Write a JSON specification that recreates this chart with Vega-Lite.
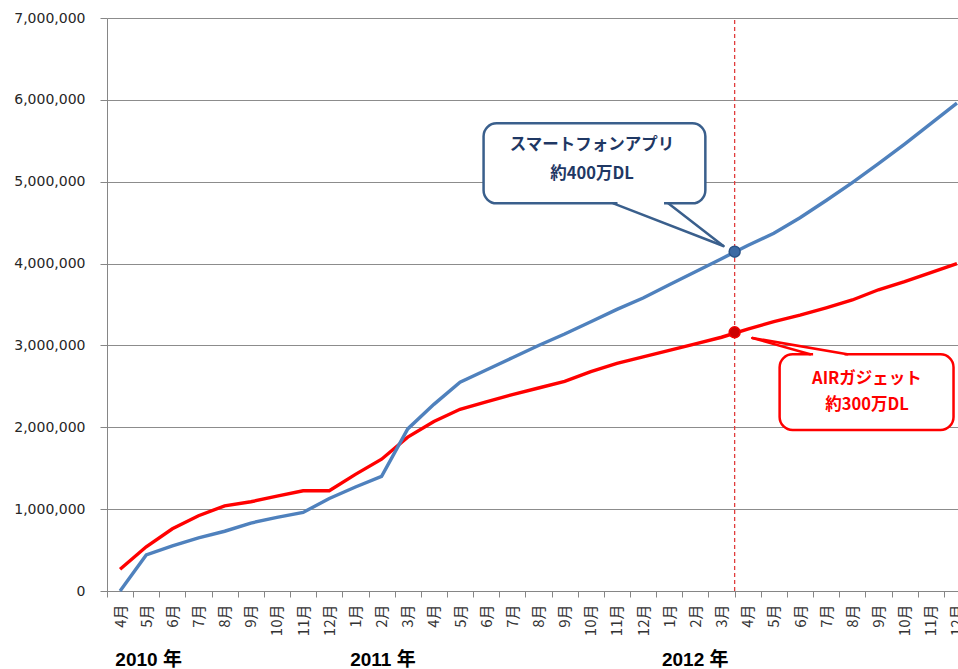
{
  "$schema": "https://vega.github.io/schema/vega-lite/v6.json",
  "width": 863,
  "height": 573,
  "autosize": {"type": "pad"},
  "padding": {"left": 13, "top": 11, "right": 0, "bottom": 0},
  "background": "white",
  "config": {
    "view": {"stroke": null},
    "axis": {"domainColor": "#868686", "tickColor": "#868686", "gridColor": "#8C8C8C", "labelColor": "#262626", "title": null},
    "axisX": {"labelOverlap": false, "labelSeparation": 0}
  },
  "datasets": {
    "series": [
      {"idx": 0, "ym": "2010-04", "series": "スマートフォンアプリ", "value": 0},
      {"idx": 1, "ym": "2010-05", "series": "スマートフォンアプリ", "value": 440000},
      {"idx": 2, "ym": "2010-06", "series": "スマートフォンアプリ", "value": 550000},
      {"idx": 3, "ym": "2010-07", "series": "スマートフォンアプリ", "value": 650000},
      {"idx": 4, "ym": "2010-08", "series": "スマートフォンアプリ", "value": 730000},
      {"idx": 5, "ym": "2010-09", "series": "スマートフォンアプリ", "value": 830000},
      {"idx": 6, "ym": "2010-10", "series": "スマートフォンアプリ", "value": 900000},
      {"idx": 7, "ym": "2010-11", "series": "スマートフォンアプリ", "value": 960000},
      {"idx": 8, "ym": "2010-12", "series": "スマートフォンアプリ", "value": 1130000},
      {"idx": 9, "ym": "2011-01", "series": "スマートフォンアプリ", "value": 1270000},
      {"idx": 10, "ym": "2011-02", "series": "スマートフォンアプリ", "value": 1400000},
      {"idx": 11, "ym": "2011-03", "series": "スマートフォンアプリ", "value": 1980000},
      {"idx": 12, "ym": "2011-04", "series": "スマートフォンアプリ", "value": 2280000},
      {"idx": 13, "ym": "2011-05", "series": "スマートフォンアプリ", "value": 2550000},
      {"idx": 14, "ym": "2011-06", "series": "スマートフォンアプリ", "value": 2700000},
      {"idx": 15, "ym": "2011-07", "series": "スマートフォンアプリ", "value": 2850000},
      {"idx": 16, "ym": "2011-08", "series": "スマートフォンアプリ", "value": 3000000},
      {"idx": 17, "ym": "2011-09", "series": "スマートフォンアプリ", "value": 3140000},
      {"idx": 18, "ym": "2011-10", "series": "スマートフォンアプリ", "value": 3290000},
      {"idx": 19, "ym": "2011-11", "series": "スマートフォンアプリ", "value": 3440000},
      {"idx": 20, "ym": "2011-12", "series": "スマートフォンアプリ", "value": 3580000},
      {"idx": 21, "ym": "2012-01", "series": "スマートフォンアプリ", "value": 3740000},
      {"idx": 22, "ym": "2012-02", "series": "スマートフォンアプリ", "value": 3900000},
      {"idx": 23, "ym": "2012-03", "series": "スマートフォンアプリ", "value": 4060000},
      {"idx": 24, "ym": "2012-04", "series": "スマートフォンアプリ", "value": 4220000},
      {"idx": 25, "ym": "2012-05", "series": "スマートフォンアプリ", "value": 4370000},
      {"idx": 26, "ym": "2012-06", "series": "スマートフォンアプリ", "value": 4560000},
      {"idx": 27, "ym": "2012-07", "series": "スマートフォンアプリ", "value": 4770000},
      {"idx": 28, "ym": "2012-08", "series": "スマートフォンアプリ", "value": 4990000},
      {"idx": 29, "ym": "2012-09", "series": "スマートフォンアプリ", "value": 5220000},
      {"idx": 30, "ym": "2012-10", "series": "スマートフォンアプリ", "value": 5460000},
      {"idx": 31, "ym": "2012-11", "series": "スマートフォンアプリ", "value": 5710000},
      {"idx": 32, "ym": "2012-12", "series": "スマートフォンアプリ", "value": 5960000},
      {"idx": 0, "ym": "2010-04", "series": "AIRガジェット", "value": 265000},
      {"idx": 1, "ym": "2010-05", "series": "AIRガジェット", "value": 540000},
      {"idx": 2, "ym": "2010-06", "series": "AIRガジェット", "value": 760000},
      {"idx": 3, "ym": "2010-07", "series": "AIRガジェット", "value": 920000},
      {"idx": 4, "ym": "2010-08", "series": "AIRガジェット", "value": 1040000},
      {"idx": 5, "ym": "2010-09", "series": "AIRガジェット", "value": 1090000},
      {"idx": 6, "ym": "2010-10", "series": "AIRガジェット", "value": 1160000},
      {"idx": 7, "ym": "2010-11", "series": "AIRガジェット", "value": 1225000},
      {"idx": 8, "ym": "2010-12", "series": "AIRガジェット", "value": 1225000},
      {"idx": 9, "ym": "2011-01", "series": "AIRガジェット", "value": 1425000},
      {"idx": 10, "ym": "2011-02", "series": "AIRガジェット", "value": 1610000},
      {"idx": 11, "ym": "2011-03", "series": "AIRガジェット", "value": 1880000},
      {"idx": 12, "ym": "2011-04", "series": "AIRガジェット", "value": 2070000},
      {"idx": 13, "ym": "2011-05", "series": "AIRガジェット", "value": 2220000},
      {"idx": 14, "ym": "2011-06", "series": "AIRガジェット", "value": 2310000},
      {"idx": 15, "ym": "2011-07", "series": "AIRガジェット", "value": 2400000},
      {"idx": 16, "ym": "2011-08", "series": "AIRガジェット", "value": 2480000},
      {"idx": 17, "ym": "2011-09", "series": "AIRガジェット", "value": 2560000},
      {"idx": 18, "ym": "2011-10", "series": "AIRガジェット", "value": 2680000},
      {"idx": 19, "ym": "2011-11", "series": "AIRガジェット", "value": 2780000},
      {"idx": 20, "ym": "2011-12", "series": "AIRガジェット", "value": 2860000},
      {"idx": 21, "ym": "2012-01", "series": "AIRガジェット", "value": 2940000},
      {"idx": 22, "ym": "2012-02", "series": "AIRガジェット", "value": 3020000},
      {"idx": 23, "ym": "2012-03", "series": "AIRガジェット", "value": 3100000},
      {"idx": 24, "ym": "2012-04", "series": "AIRガジェット", "value": 3200000},
      {"idx": 25, "ym": "2012-05", "series": "AIRガジェット", "value": 3290000},
      {"idx": 26, "ym": "2012-06", "series": "AIRガジェット", "value": 3370000},
      {"idx": 27, "ym": "2012-07", "series": "AIRガジェット", "value": 3460000},
      {"idx": 28, "ym": "2012-08", "series": "AIRガジェット", "value": 3555000},
      {"idx": 29, "ym": "2012-09", "series": "AIRガジェット", "value": 3680000},
      {"idx": 30, "ym": "2012-10", "series": "AIRガジェット", "value": 3780000},
      {"idx": 31, "ym": "2012-11", "series": "AIRガジェット", "value": 3890000},
      {"idx": 32, "ym": "2012-12", "series": "AIRガジェット", "value": 4000000}
    ],
    "notes": [
      {"kind": "cut", "who": "red", "idx": 23.5, "value": 0, "value2": 7000000},
      {"kind": "box", "who": "blue", "idx": 13.90, "idx2": 22.38, "value": 5713000, "value2": 4736000},
      {"kind": "box", "who": "red", "idx": 25.22, "idx2": 31.87, "value": 2892000, "value2": 1967000},
      {"kind": "gap", "who": "blue", "idx": 19.02, "idx2": 20.80, "value": 4775000, "value2": 4705000},
      {"kind": "gap", "who": "red", "idx": 26.50, "idx2": 27.70, "value": 2925000, "value2": 2860000},
      {"kind": "edge", "who": "blue", "idx": 18.86, "idx2": 23.07, "value": 4736000, "value2": 4215000},
      {"kind": "edge", "who": "blue", "idx": 20.96, "idx2": 23.07, "value": 4736000, "value2": 4215000},
      {"kind": "edge", "who": "red", "idx": 26.39, "idx2": 24.18, "value": 2892000, "value2": 3091000},
      {"kind": "edge", "who": "red", "idx": 27.81, "idx2": 24.18, "value": 2892000, "value2": 3091000},
      {"kind": "dot", "who": "blue", "idx": 23.5, "value": 4145000},
      {"kind": "dot", "who": "red", "idx": 23.5, "value": 3160000},
      {"kind": "text", "who": "blue", "idx": 18.05, "value": 5448000, "label": "スマートフォンアプリ"},
      {"kind": "text", "who": "blue", "idx": 18.05, "value": 5094000, "label": "約400万DL"},
      {"kind": "text", "who": "red", "idx": 28.56, "value": 2590000, "label": "AIRガジェット"},
      {"kind": "text", "who": "red", "idx": 28.56, "value": 2272000, "label": "約300万DL"},
      {"kind": "year", "who": "black", "idx": -0.18, "value": -843000, "label": "2010 年"},
      {"kind": "year", "who": "black", "idx": 8.80, "value": -843000, "label": "2011 年"},
      {"kind": "year", "who": "black", "idx": 20.72, "value": -843000, "label": "2012 年"}
    ]
  },
  "layer": [
    {
      "data": {"name": "notes"},
      "transform": [{"filter": "datum.kind === 'cut'"}],
      "mark": {"type": "rule", "color": "#E03C3C", "strokeWidth": 1.3, "strokeDash": [4, 3]},
      "encoding": {
        "x": {
          "field": "idx", "type": "quantitative",
          "scale": {"domain": [-0.5, 32.5], "nice": false, "zero": false},
          "axis": {
            "values": [-0.5, 0.5, 1.5, 2.5, 3.5, 4.5, 5.5, 6.5, 7.5, 8.5, 9.5, 10.5, 11.5, 12.5, 13.5, 14.5, 15.5, 16.5, 17.5, 18.5, 19.5, 20.5, 21.5, 22.5, 23.5, 24.5, 25.5, 26.5, 27.5, 28.5, 29.5, 30.5, 31.5, 32.5],
            "tickCount": 60,
            "labelExpr": "datum.value > 32 ? '' : ((datum.value + 3.5) % 12 + 1) + '月'",
            "labelOffset": 13.08, "labelAngle": 270, "grid": false, "tickSize": 6,
            "labelPadding": 7, "labelFontSize": 15, "labelFont": "Noto Sans CJK JP",
            "labelOverlap": false, "labelSeparation": 0, "labelColor": "#333333", "labelBound": false, "labelFlush": false
          }
        },
        "y": {
          "field": "value", "type": "quantitative",
          "scale": {"domain": [0, 7000000], "nice": false, "zero": true},
          "axis": {
            "values": [0, 1000000, 2000000, 3000000, 4000000, 5000000, 6000000, 7000000],
            "tickCount": 20,
            "format": ",d", "grid": true, "tickSize": 7, "labelPadding": 15,
            "labelFontSize": 14, "labelFont": "DejaVu Sans", "gridWidth": 1
          }
        },
        "y2": {"field": "value2"}
      }
    },
    {
      "data": {"name": "series"},
      "transform": [{"filter": "datum.series === 'AIRガジェット'"}],
      "mark": {"type": "line", "color": "#FF0000", "strokeWidth": 3.4},
      "encoding": {
        "x": {"field": "idx", "type": "quantitative"},
        "y": {"field": "value", "type": "quantitative"}
      }
    },
    {
      "data": {"name": "series"},
      "transform": [{"filter": "datum.series === 'スマートフォンアプリ'"}],
      "mark": {"type": "line", "color": "#4F81BD", "strokeWidth": 3.4},
      "encoding": {
        "x": {"field": "idx", "type": "quantitative"},
        "y": {"field": "value", "type": "quantitative"}
      }
    },
    {
      "data": {"name": "notes"},
      "transform": [{"filter": "datum.kind === 'box'"}],
      "mark": {"type": "rect", "fill": "white", "strokeWidth": 2.5, "cornerRadius": 13},
      "encoding": {
        "x": {"field": "idx", "type": "quantitative"},
        "x2": {"field": "idx2"},
        "y": {"field": "value", "type": "quantitative"},
        "y2": {"field": "value2"},
        "stroke": {"condition": {"test": "datum.who === 'blue'", "value": "#3A5F8C"}, "value": "#FF0000"}
      }
    },
    {
      "data": {"name": "notes"},
      "transform": [{"filter": "datum.kind === 'gap'"}],
      "mark": {"type": "rect", "fill": "white"},
      "encoding": {
        "x": {"field": "idx", "type": "quantitative"},
        "x2": {"field": "idx2"},
        "y": {"field": "value", "type": "quantitative"},
        "y2": {"field": "value2"}
      }
    },
    {
      "data": {"name": "notes"},
      "transform": [{"filter": "datum.kind === 'edge'"}],
      "mark": {"type": "rule", "strokeWidth": 2.5, "strokeCap": "round"},
      "encoding": {
        "x": {"field": "idx", "type": "quantitative"},
        "x2": {"field": "idx2"},
        "y": {"field": "value", "type": "quantitative"},
        "y2": {"field": "value2"},
        "color": {"condition": {"test": "datum.who === 'blue'", "value": "#3A5F8C"}, "value": "#FF0000"}
      }
    },
    {
      "data": {"name": "notes"},
      "transform": [{"filter": "datum.kind === 'dot'"}],
      "mark": {"type": "point", "filled": true, "size": 120, "strokeWidth": 1.5, "opacity": 1},
      "encoding": {
        "x": {"field": "idx", "type": "quantitative"},
        "y": {"field": "value", "type": "quantitative"},
        "fill": {"condition": {"test": "datum.who === 'blue'", "value": "#3D6AA3"}, "value": "#CC0000"},
        "stroke": {"condition": {"test": "datum.who === 'blue'", "value": "#2B5386"}, "value": "#F00000"}
      }
    },
    {
      "data": {"name": "notes"},
      "transform": [{"filter": "datum.kind === 'text'"}],
      "mark": {"type": "text", "font": "Noto Sans CJK JP", "fontSize": 16.5, "fontWeight": "bold", "align": "center", "baseline": "middle"},
      "encoding": {
        "x": {"field": "idx", "type": "quantitative"},
        "y": {"field": "value", "type": "quantitative"},
        "text": {"field": "label"},
        "color": {"condition": {"test": "datum.who === 'blue'", "value": "#1F3864"}, "value": "#FF0000"}
      }
    },
    {
      "data": {"name": "notes"},
      "transform": [{"filter": "datum.kind === 'year'"}],
      "mark": {"type": "text", "font": "Liberation Sans, Noto Sans CJK JP", "fontSize": 19, "fontWeight": "bold", "align": "left", "baseline": "middle", "color": "#000000"},
      "encoding": {
        "x": {"field": "idx", "type": "quantitative"},
        "y": {"field": "value", "type": "quantitative"},
        "text": {"field": "label"}
      }
    }
  ]
}
